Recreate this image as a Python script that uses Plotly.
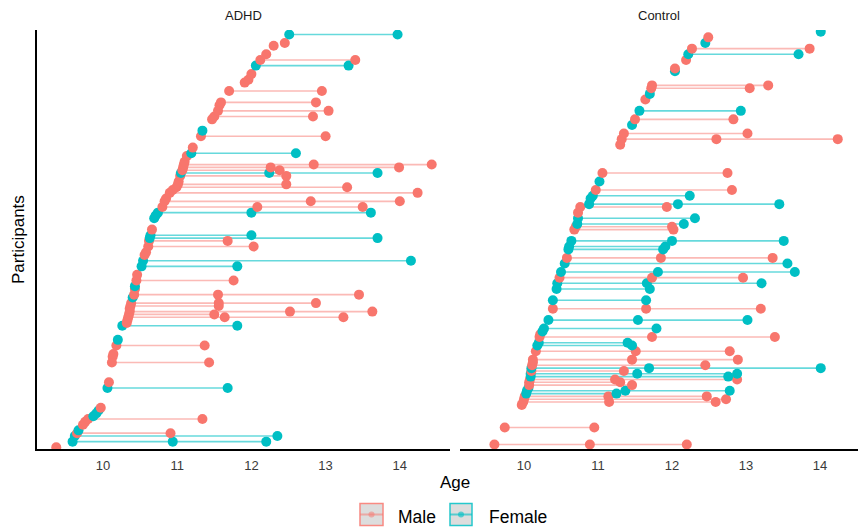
import plotly.graph_objects as go

# ---------------- data ----------------
# participant order (rank by age at first visit), sex, ages at each visit
adhd_rank = [0, 2, 4, 5, 6, 8, 9, 10, 11, 12, 13, 14, 21, 23, 30, 32, 33, 36, 38, 43,
             44, 45, 46, 47, 48, 49, 50, 51, 53, 54, 56, 57, 59, 61, 64, 66, 68, 69, 71, 73,
             74, 75, 77, 81, 82, 83, 85, 87, 88, 90, 91, 92, 93, 94, 96, 97, 98, 99, 100, 101,
             103, 104, 106, 110, 112, 116, 117, 119, 121, 122, 126, 129, 130, 132, 135, 137, 139, 142, 143, 146]
adhd_sex = ['M', 'F', 'F', 'M', 'F', 'M', 'M', 'M', 'F', 'F', 'F', 'M', 'F', 'M', 'M', 'M', 'M', 'M', 'F', 'F',
            'M', 'M', 'M', 'M', 'M', 'M', 'M', 'M', 'F', 'M', 'M', 'F', 'M', 'M', 'F', 'F', 'M', 'M', 'M', 'M',
            'F', 'F', 'M', 'F', 'F', 'F', 'M', 'M', 'M', 'M', 'M', 'M', 'M', 'M', 'M', 'F', 'M', 'M', 'M', 'M',
            'M', 'F', 'M', 'M', 'F', 'M', 'M', 'M', 'M', 'M', 'M', 'M', 'M', 'M', 'F', 'M', 'M', 'M', 'M', 'F']
adhd_ages = [[9.37], [9.59, 10.94, 12.20], [9.62, 12.35], [9.65, 10.91], [9.67], [9.73], [9.76],
             [9.80, 11.34], [9.87], [9.91], [9.94], [9.97], [10.06, 11.68], [10.08], [10.12, 11.43],
             [10.13], [10.14], [10.18, 11.37], [10.20], [10.26, 11.81],
             [10.32], [10.33], [10.34, 11.64, 13.24], [10.35, 11.50], [10.36, 12.52, 13.63], [10.36],
             [10.37, 11.56], [10.38, 11.56, 12.87], [10.40], [10.42, 11.55, 13.45], [10.43], [10.43],
             [10.45, 11.76], [10.46], [10.52, 11.81], [10.54, 14.15], [10.56], [10.58], [10.61, 12.03],
             [10.62, 11.68],
             [10.63, 13.70], [10.64, 12.00], [10.66], [10.69], [10.71], [10.74, 12.00, 13.61],
             [10.80, 12.08, 13.50], [10.83, 12.80, 14.00], [10.85], [10.90, 14.24], [10.94], [10.99, 13.29],
             [11.01, 12.47], [11.02], [11.04, 12.47], [11.05, 12.24, 13.70], [11.07, 12.38],
             [11.08, 12.26, 13.99], [11.09, 12.84, 14.43], [11.10],
             [11.13], [11.19, 12.60], [11.21], [11.32, 13.00], [11.34], [11.47], [11.50, 12.83],
             [11.55, 13.04], [11.57], [11.59, 12.87], [11.70, 12.95], [11.91], [11.96], [12.00],
             [12.06, 13.31], [12.12, 13.40], [12.20], [12.30], [12.45], [12.51, 13.97]]

control_rank = [1, 7, 15, 16, 17, 18, 19, 20, 21, 22, 23, 24, 25, 26, 27, 28, 29, 30, 31, 34,
                36, 37, 39, 40, 41, 42, 45, 49, 52, 56, 58, 60, 62, 65, 67, 70, 71, 73, 77, 78,
                79, 81, 83, 85, 86, 88, 89, 91, 94, 97, 107, 109, 111, 114, 116, 119, 123, 125, 127, 128,
                133, 134, 137, 139, 141, 143, 145, 147]
control_sex = ['M', 'M', 'M', 'M', 'M', 'M', 'F', 'F', 'F', 'M', 'M', 'M', 'F', 'F', 'M', 'F', 'M', 'M', 'M', 'M',
               'F', 'F', 'M', 'M', 'F', 'F', 'F', 'M', 'F', 'F', 'F', 'M', 'F', 'F', 'M', 'F', 'F', 'F', 'M', 'M',
               'F', 'F', 'M', 'M', 'F', 'F', 'F', 'M', 'F', 'M', 'M', 'M', 'M', 'F', 'M', 'F', 'M', 'F', 'M', 'M',
               'F', 'M', 'M', 'F', 'M', 'F', 'M', 'F']
control_ages = [[9.60, 10.89, 12.20], [9.74, 10.95], [9.97], [9.99, 11.15, 12.59], [10.00, 12.73],
                [10.01, 11.14, 12.47], [10.03, 11.25], [10.04, 11.37, 12.78], [10.06], [10.07, 11.46],
                [10.07, 11.30], [10.08, 11.23, 12.88], [10.09, 12.76], [10.09, 11.53, 12.88], [10.10, 11.35],
                [10.10, 11.69, 14.01], [10.11, 12.45], [10.12], [10.12, 11.46, 12.89], [10.16, 11.51, 12.78],
                [10.18, 11.46], [10.20, 11.40], [10.21, 11.73, 13.39], [10.22], [10.25], [10.27, 11.79],
                [10.33, 11.54, 13.02], [10.39, 11.65, 13.20], [10.39, 11.65], [10.44, 11.70],
                [10.45, 11.66, 13.21], [10.48, 11.73, 12.96], [10.50, 11.81, 13.66], [10.55, 13.56],
                [10.58, 11.85, 13.36], [10.60, 11.88], [10.61, 11.91], [10.64, 12.00, 13.51], [10.68, 12.02],
                [10.70, 12.00],
                [10.72, 12.16], [10.73, 12.31], [10.73], [10.76, 11.93], [10.88, 12.08, 13.45], [10.90],
                [10.93, 12.24], [10.97, 12.81], [11.02], [11.06, 12.75], [11.30], [11.32, 12.60, 14.24],
                [11.35, 13.02], [11.46], [11.50, 12.83], [11.56, 12.93], [11.64], [11.70], [11.72, 13.05],
                [11.73, 13.30],
                [12.04], [12.04], [12.19], [12.22, 13.71], [12.27, 13.86], [12.45], [12.49], [14.01]]

panels = ['ADHD', 'Control']
x_ticks = [10, 11, 12, 13, 14]
sex_levels = ['M', 'F']
sex_labels = ['Male', 'Female']

# ---------------- style ----------------
W, H = 859, 528
ML, MR, MT, MB = 37, 1, 30, 79
PW, PH = W - ML - MR, H - MT - MB
point_col = {'M': '#F8766D', 'F': '#00BFC4'}
line_col = {'M': 'rgba(248,118,109,0.5)', 'F': 'rgba(0,191,196,0.6)'}
FONT = 'Liberation Sans, Arial, sans-serif'


def px_x(p):
    return (p - ML) / PW


def px_y(p):
    return (H - MB - p) / PH


fig = go.Figure()
data = [(adhd_rank, adhd_sex, adhd_ages, 'x', 'y'),
        (control_rank, control_sex, control_ages, 'x2', 'y2')]

# lines first
for rank, sex, ages, xa, ya in data:
    for s in sex_levels:
        xs, ys = [], []
        for r, sx, a in zip(rank, sex, ages):
            if sx == s and len(a) > 1:
                xs += [min(a), max(a), None]
                ys += [r, r, None]
        fig.add_trace(go.Scatter(x=xs, y=ys, mode='lines', xaxis=xa, yaxis=ya,
                                 line=dict(color=line_col[s], width=1.6),
                                 hoverinfo='skip', showlegend=False))
# then points
for rank, sex, ages, xa, ya in data:
    xs, ys, cs = [], [], []
    for r, sx, a in zip(rank, sex, ages):
        for v in a:
            xs.append(v)
            ys.append(r)
            cs.append(point_col[sx])
    fig.add_trace(go.Scatter(x=xs, y=ys, mode='markers', xaxis=xa, yaxis=ya,
                             marker=dict(color=cs, size=10, line=dict(width=0)),
                             showlegend=False))

d1 = [0, px_x(450)]
d2 = [px_x(460), 1]
xcommon = dict(tickvals=x_ticks, ticktext=[str(t) for t in x_ticks], showgrid=False, zeroline=False,
               showline=True, linecolor='black', linewidth=1.5, ticks='outside', ticklen=4,
               tickcolor='rgba(0,0,0,0)',
               tickfont=dict(family=FONT, size=13, color='#3A3A3A'))
ycommon = dict(range=[-0.6, 147.6], showgrid=False, zeroline=False, showticklabels=False, ticks='')

fig.update_layout(
    width=W, height=H, margin=dict(l=ML, r=MR, t=MT, b=MB),
    plot_bgcolor='white', paper_bgcolor='white', showlegend=False,
    xaxis=dict(domain=d1, range=[10 + (37 - 103) / 74.2, 10 + (450 - 103) / 74.2], anchor='y', **xcommon),
    xaxis2=dict(domain=d2, range=[10 + (460 - 524) / 74.0, 10 + (858 - 524) / 74.0], anchor='y2', **xcommon),
    yaxis=dict(domain=[0, 1], anchor='x', showline=True, linecolor='black', linewidth=1.5, **ycommon),
    yaxis2=dict(domain=[0, 1], anchor='x2', showline=False, **ycommon),
)


def label(text, px, py, size, color='black', angle=0, xanchor='center'):
    return dict(text=text, x=px_x(px), y=px_y(py), xref='paper', yref='paper', showarrow=False,
                xanchor=xanchor, yanchor='middle', textangle=angle,
                font=dict(family=FONT, size=size, color=color))


ann = [
    label(panels[0], (37 + 450) / 2, 16, 13, '#1A1A1A'),
    label(panels[1], (460 + 858) / 2, 16, 13, '#1A1A1A'),
    label('Age', 455, 483, 17),
    label('Participants', 18, 240, 17, angle=-90),
]

shapes = []
legend_boxes = [(360, 383), (450, 472)]
legend_text_x = [396, 487]
for (bx0, bx1), tx, s, lab in zip(legend_boxes, legend_text_x, sex_levels, sex_labels):
    y0, y1 = 503.5, 525.5
    shapes.append(dict(type='rect', xref='paper', yref='paper', x0=px_x(bx0), x1=px_x(bx1),
                       y0=px_y(y1), y1=px_y(y0), fillcolor='rgba(190,190,190,0.6)',
                       line=dict(color=point_col[s], width=1.5), opacity=0.85))
    cy = (y0 + y1) / 2
    shapes.append(dict(type='line', xref='paper', yref='paper', x0=px_x(bx0), x1=px_x(bx1),
                       y0=px_y(cy), y1=px_y(cy), line=dict(color=line_col[s], width=2)))
    cx = (bx0 + bx1) / 2
    shapes.append(dict(type='circle', xref='paper', yref='paper', x0=px_x(cx - 3), x1=px_x(cx + 3),
                       y0=px_y(cy + 3), y1=px_y(cy - 3), fillcolor=line_col[s], line=dict(width=0)))
    ann.append(label(lab, tx, 517, 17.5, xanchor='left'))

fig.update_layout(annotations=ann, shapes=shapes)
fig.write_html('out.html', config={'displayModeBar': False},
               post_script="document.body.style.margin='0';")
